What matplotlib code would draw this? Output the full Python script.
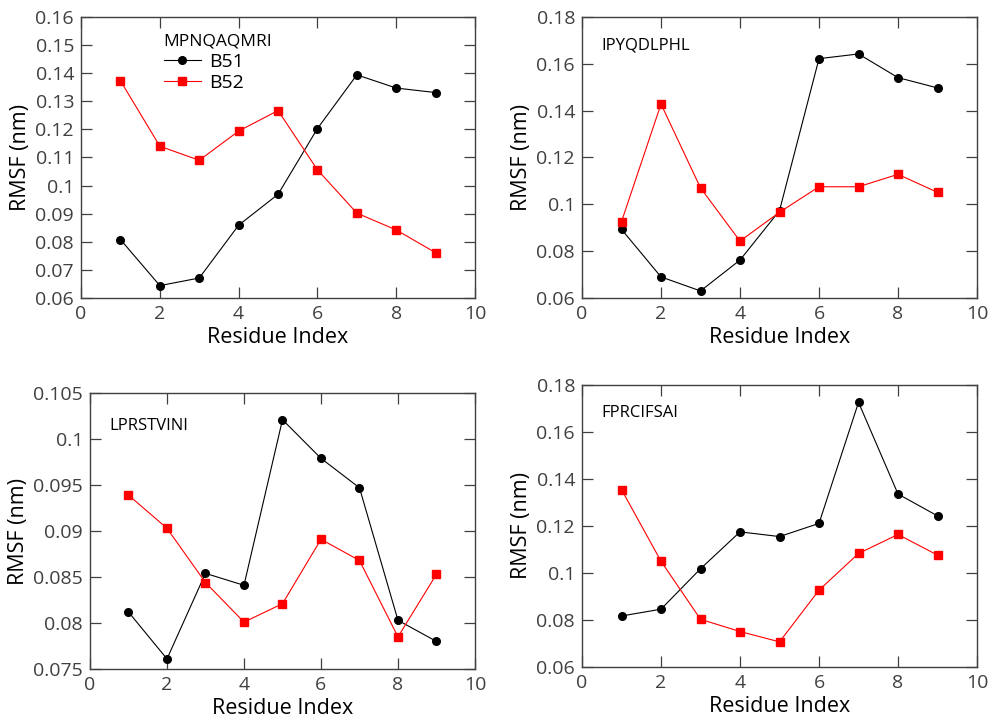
import matplotlib
matplotlib.use('Agg')
import matplotlib.pyplot as plt
from matplotlib.ticker import FormatStrFormatter, MultipleLocator

plt.rcParams['font.family'] = ['Open Sans', 'DejaVu Sans']

residues = [1, 2, 3, 4, 5, 6, 7, 8, 9]

names = ['MPNQAQMRI', 'IPYQDLPHL', 'LPRSTVINI', 'FPRCIFSAI']

b51_mpnqaqmri = [0.0808, 0.0644, 0.0671, 0.0859, 0.0969, 0.1203, 0.1394, 0.1347, 0.1331]
b52_mpnqaqmri = [0.1373, 0.1140, 0.1090, 0.1194, 0.1267, 0.1056, 0.0902, 0.0842, 0.0761]

b51_ipyqdlphl = [0.0893, 0.0690, 0.0630, 0.0762, 0.0973, 0.1622, 0.1642, 0.1541, 0.1497]
b52_ipyqdlphl = [0.0926, 0.1428, 0.1070, 0.0843, 0.0966, 0.1075, 0.1075, 0.1128, 0.1051]

b51_lprstvini = [0.0812, 0.0761, 0.0854, 0.0841, 0.1021, 0.0979, 0.0947, 0.0803, 0.0780]
b52_lprstvini = [0.0939, 0.0903, 0.0844, 0.0801, 0.0821, 0.0891, 0.0868, 0.0785, 0.0853]

b51_fprcifsai = [0.0817, 0.0846, 0.1018, 0.1175, 0.1155, 0.1211, 0.1726, 0.1336, 0.1243]
b52_fprcifsai = [0.1355, 0.1050, 0.0803, 0.0751, 0.0707, 0.0927, 0.1083, 0.1164, 0.1076]

b51_all = [b51_mpnqaqmri, b51_ipyqdlphl, b51_lprstvini, b51_fprcifsai]
b52_all = [b52_mpnqaqmri, b52_ipyqdlphl, b52_lprstvini, b52_fprcifsai]

# y range / step for each panel
ylims = [(0.06, 0.16), (0.06, 0.18), (0.075, 0.105), (0.06, 0.18)]
ysteps = [0.01, 0.02, 0.005, 0.02]

# axes rectangles (figure fraction)
rects = [
    [0.0817, 0.589, 0.3972, 0.3876],
    [0.5867, 0.589, 0.3982, 0.3876],
    [0.0907, 0.0772, 0.3881, 0.3807],
    [0.5867, 0.080, 0.3982, 0.3890],
]
# annotation positions (axes fraction)
label_pos = [None, (0.05, 0.90), (0.05, 0.88), (0.05, 0.90)]

fig = plt.figure(figsize=(9.92, 7.25), dpi=100)
tick_col = '#404040'

for i in range(4):
    ax = fig.add_axes(rects[i])
    ax.plot(residues, b51_all[i], color='black', lw=0.8, marker='o', ms=5.5, label='B51')
    ax.plot(residues, b52_all[i], color='red', lw=0.8, marker='s', ms=5.2, label='B52')
    ax.set_xlim(0, 10)
    ax.set_ylim(*ylims[i])
    ax.xaxis.set_major_locator(MultipleLocator(2))
    ax.yaxis.set_major_locator(MultipleLocator(ysteps[i]))
    ax.yaxis.set_major_formatter(FormatStrFormatter('%g'))
    ax.xaxis.set_major_formatter(FormatStrFormatter('%g'))
    ax.tick_params(direction='in', length=8, width=0.9, top=True, right=True,
                   labelsize=14, labelcolor=tick_col, color=tick_col, pad=5)
    for s in ax.spines.values():
        s.set_color(tick_col)
        s.set_linewidth(1.0)
    ax.set_xlabel('Residue Index', fontsize=15.5, labelpad=3)
    ax.set_ylabel('RMSF (nm)', fontsize=15.5, labelpad=3)

    if i == 0:
        leg = ax.legend(title=names[i], loc='upper left', bbox_to_anchor=(0.185, 0.975),
                        frameon=False, fontsize=14, title_fontsize=12.5,
                        handlelength=1.9, handletextpad=0.45, borderpad=0,
                        labelspacing=0.15, alignment='left')
    else:
        ax.text(label_pos[i][0], label_pos[i][1], names[i], transform=ax.transAxes,
                fontsize=12, ha='left', va='center')

plt.savefig('out.png', dpi=100)
